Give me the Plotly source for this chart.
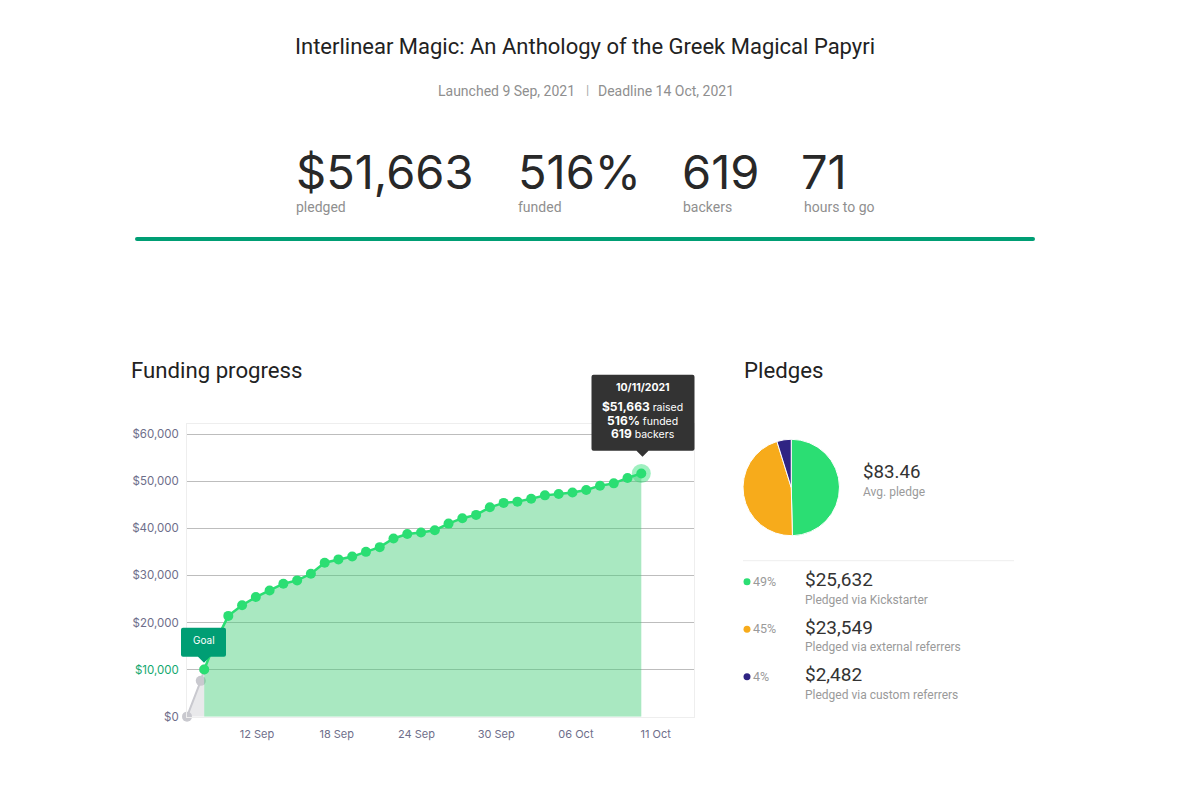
import plotly.graph_objects as go

W, H = 1200, 787
Y_SCALE = 780.4  # page height the y positions below were read against

# funding per day
launch_dates = ["2021-09-08", "2021-09-09", "2021-09-09 06:00"]
launch_values = [0, 7600, 10000]

funded_dates = ["2021-09-09 06:00", "2021-09-10", "2021-09-11", "2021-09-12", "2021-09-13", "2021-09-14",
                "2021-09-15", "2021-09-16", "2021-09-17", "2021-09-18", "2021-09-19", "2021-09-20",
                "2021-09-21", "2021-09-22", "2021-09-23", "2021-09-24", "2021-09-25", "2021-09-26",
                "2021-09-27", "2021-09-28", "2021-09-29", "2021-09-30", "2021-10-01", "2021-10-02",
                "2021-10-03", "2021-10-04", "2021-10-05", "2021-10-06", "2021-10-07", "2021-10-08",
                "2021-10-09", "2021-10-10", "2021-10-11"]
funded_values = [10000, 15500, 21400, 23650, 25400, 26800, 28240, 28940, 30350, 32700, 33400, 34000,
                 35000, 36000, 37840, 38800, 39100, 39600, 41000, 42150, 42850, 44470, 45400,
                 45670, 46300, 47000, 47300, 47600, 48140, 49060, 49550, 50700, 51663]

y_ticks = [0, 10000, 20000, 30000, 40000, 50000, 60000]
y_labels = ["$0", '<span style="color:#13a86f">$10,000</span>', "$20,000", "$30,000", "$40,000", "$50,000", "$60,000"]
# labels sit between the days on the original, evenly spaced
x_ticks = ["2021-09-13 02:00", "2021-09-18 21:00", "2021-09-24 16:00", "2021-09-30 11:00",
           "2021-10-06 06:00", "2021-10-12 01:00"]
x_labels = ["12 Sep", "18 Sep", "24 Sep", "30 Sep", "06 Oct", "11 Oct"]

pledge_names = ["Pledged via Kickstarter", "Pledged via external referrers", "Pledged via custom referrers"]
pledge_values = [25632, 23549, 2482]
pledge_amounts = ["$25,632", "$23,549", "$2,482"]
pledge_pcts = ["49%", "45%", "4%"]
pledge_colors = ["#2bde73", "#f7ab1b", "#2f2483"]

stat_values = ["$51,663", "516%", "619", "71"]
stat_labels = ["pledged", "funded", "backers", "hours to go"]

GREEN = "#2bde73"
DARK_GREEN = "#009e74"
FONT = "Inter"


def px(x):
    return x / W


def py(y):
    return 1 - y / Y_SCALE


def rounded(x0, y0, x1, y1, r, tip=None):
    # path in paper coords, tip is the (x, y) of a small arrow under the box
    p = f"M {px(x0 + r)} {py(y0)} L {px(x1 - r)} {py(y0)} Q {px(x1)} {py(y0)} {px(x1)} {py(y0 + r)} "
    p += f"L {px(x1)} {py(y1 - r)} Q {px(x1)} {py(y1)} {px(x1 - r)} {py(y1)} "
    if tip:
        p += f"L {px(tip[0] + 6)} {py(y1)} L {px(tip[0])} {py(tip[1])} L {px(tip[0] - 6)} {py(y1)} "
    p += f"L {px(x0 + r)} {py(y1)} Q {px(x0)} {py(y1)} {px(x0)} {py(y1 - r)} "
    p += f"L {px(x0)} {py(y0 + r)} Q {px(x0)} {py(y0)} {px(x0 + r)} {py(y0)} Z"
    return p


def label(x, y, text, size, color="#8c8c8c", anchor="left", family=FONT, **kw):
    # annotations pad themselves about 2px on the left
    if anchor == "left":
        x -= 2
    annotations.append(dict(x=px(x), y=py(y), xref="paper", yref="paper", text=text, showarrow=False,
                            xanchor=anchor, yanchor="middle", font=dict(size=size, color=color, family=family), **kw))


fig = go.Figure()

fig.add_trace(go.Scatter(
    x=launch_dates, y=launch_values, mode="lines+markers", fill="tozeroy", fillcolor="rgba(200,200,206,0.4)",
    line=dict(color="#c9c9cf", width=2), marker=dict(size=10, color="#c9c9cf"), cliponaxis=False, hoverinfo="skip"))
fig.add_trace(go.Scatter(
    x=funded_dates[-1:], y=funded_values[-1:], mode="markers",
    marker=dict(size=19, color="rgba(43,222,115,0.45)"), cliponaxis=False, hoverinfo="skip"))
fig.add_trace(go.Scatter(
    x=funded_dates, y=funded_values, mode="lines+markers", fill="tozeroy", fillcolor="rgba(64,204,118,0.45)",
    line=dict(color=GREEN, width=2.5), marker=dict(size=10, color=GREEN), cliponaxis=False, hoverinfo="skip"))
fig.add_trace(go.Pie(
    values=pledge_values, marker=dict(colors=pledge_colors, line=dict(color="white", width=1)),
    sort=False, direction="clockwise", rotation=0, textinfo="none", hoverinfo="skip",
    domain=dict(x=[px(743), px(839.5)], y=[py(536), py(439.5)])))

annotations = []
label(585, 47, "Interlinear Magic: An Anthology of the Greek Magical Papyri", 22, "#222222", "center", "Roboto")
label(506, 91, "Launched 9 Sep, 2021", 14, "#8f8f8f", "center", "Roboto")
label(587, 90, "|", 13, "#aaaaaa", "center", "Roboto")
label(665.5, 91, "Deadline 14 Oct, 2021", 14, "#8f8f8f", "center", "Roboto")

for xv, xl, v, t in zip([296, 518, 682, 801], [296, 518, 683, 804], stat_values, stat_labels):
    label(xv, 172, v, 47, "#282828", family="Inter")
    label(xl, 207, t, 14, "#8f8f8f", family="Roboto")

label(131, 370, "Funding progress", 22.2, "#222222", family="Roboto")
label(744, 370, "Pledges", 22.2, "#222222", family="Roboto")
label(863, 472, "$83.46", 18.7, "#333333", family="Roboto")
label(863, 492, "Avg. pledge", 12, "#9a9a9a", family="Roboto")

shapes = [
    dict(type="path", path=rounded(135, 237, 1035, 241, 2), xref="paper", yref="paper",
         fillcolor=DARK_GREEN, line_width=0),
    dict(type="line", x0=px(743), x1=px(1014), y0=py(561), y1=py(561), xref="paper", yref="paper",
         line=dict(color="#eeeeee", width=1)),
    dict(type="path", path=rounded(591.5, 375, 694.5, 451, 2, (642.5, 457)), xref="paper", yref="paper",
         fillcolor="#333333", line_width=0, layer="above"),
    dict(type="path", path=rounded(181, 628, 226, 657, 2, (204, 663)), xref="paper", yref="paper",
         fillcolor=DARK_GREEN, line_width=0, layer="above"),
]

for i, (name, amount, pct, color) in enumerate(zip(pledge_names, pledge_amounts, pledge_pcts, pledge_colors)):
    y = 582 + i * 47.5
    shapes.append(dict(type="circle", x0=px(743.5), x1=px(750.5), y0=py(y - 3.5), y1=py(y + 3.5),
                       xref="paper", yref="paper", fillcolor=color, line_width=0))
    label(753, y - 0.5, pct, 12.5, "#9a9a9a", family="Roboto")
    label(805, y - 2, amount, 19, "#333333", family="Roboto")
    label(805, y + 18, name, 12, "#9a9a9a", family="Roboto")

label(642.5, 388, "<b>10/11/2021</b>", 10.5, "white", "center")
label(642.5, 420, "<b><span style=\"font-size:12px\">$51,663</span></b> raised<br>"
      "<b><span style=\"font-size:12px\">516%</span></b> funded<br>"
      "<b><span style=\"font-size:12px\">619</span></b> backers", 10.5, "white", "center")
label(203.5, 640, "Goal", 10, "white", "center")

fig.update_layout(
    width=W, height=H, margin=dict(l=0, r=0, t=0, b=0), paper_bgcolor="white", plot_bgcolor="white",
    showlegend=False, annotations=annotations, shapes=shapes,
    xaxis=dict(domain=[px(187), px(693.5)], type="date", range=["2021-09-08", "2021-10-14 19:00"],
               tickvals=x_ticks, ticktext=x_labels, tickfont=dict(size=11, color="#6e6e8a", family=FONT),
               showgrid=False, zeroline=False, showline=True, linecolor="#eeeeee", mirror=True, ticks="", ticklabelstandoff=7),
    yaxis=dict(domain=[py(717), py(424.5)], range=[0, 62100], tickvals=y_ticks, ticktext=y_labels,
               tickfont=dict(size=11.5, color="#6e6e8a", family=FONT), gridcolor="#bdbdbd", gridwidth=1,
               zeroline=False, showline=True, linecolor="#eeeeee", mirror=True, ticks="", ticklabelstandoff=5),
)

fig.write_html("out.html", config=dict(displayModeBar=False), post_script="document.body.style.margin='0';")
